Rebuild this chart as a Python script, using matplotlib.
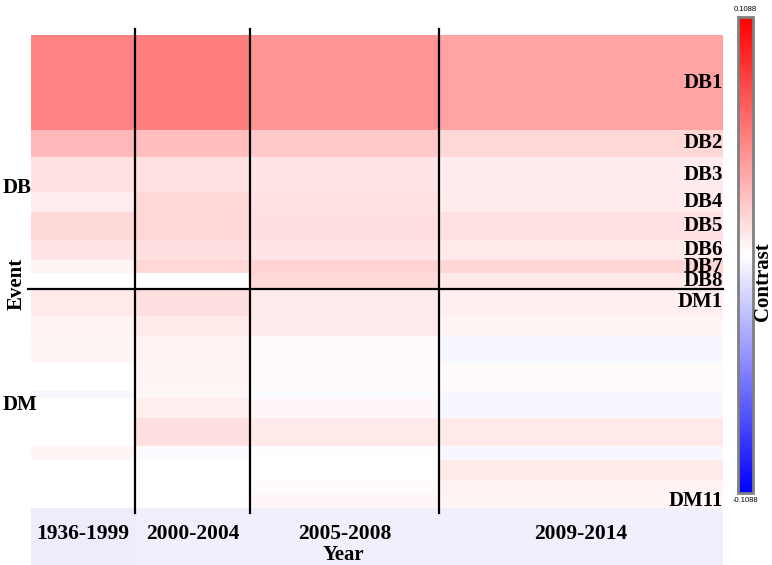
import numpy as np
import matplotlib
matplotlib.use('Agg')
import matplotlib.pyplot as plt
from matplotlib import colors
from matplotlib.patches import Rectangle

periods = ['1936-1999', '2000-2004', '2005-2008', '2009-2014']
period_widths = [104, 115, 189, 284]

db_events = ['DB1', 'DB2', 'DB3', 'DB4', 'DB5', 'DB6', 'DB7', 'DB8']
db_heights = [95, 27, 35, 20, 28, 20, 13, 16]
dm_events = ['DM1', 'DM2', 'DM3', 'DM4', 'DM5', 'DM6', 'DM7', 'DM8', 'DM9', 'DM10', 'DM11']
dm_heights = [26.5, 20.5, 27, 28, 6.5, 20.5, 28, 14, 20, 13.5, 14.5]
dm_shown = ['DM1', 'DM11']

# contrast per event (rows) and period (columns)
db_contrast = [
    [0.053, 0.055, 0.045, 0.039],
    [0.030, 0.028, 0.023, 0.017],
    [0.013, 0.013, 0.011, 0.0085],
    [0.0077, 0.017, 0.013, 0.0085],
    [0.016, 0.017, 0.014, 0.013],
    [0.0115, 0.0137, 0.0115, 0.0098],
    [0.004, 0.017, 0.019, 0.018],
    [0.0, 0.0, 0.016, 0.0098],
]
dm_contrast = [
    [0.0098, 0.014, 0.0085, 0.0068],
    [0.005, 0.0098, 0.0085, 0.0043],
    [0.004, 0.005, 0.002, -0.003],
    [0.0, 0.0045, 0.002, 0.002],
    [-0.003, 0.003, -0.002, -0.003],
    [0.0, 0.0064, 0.003, -0.003],
    [0.0, 0.014, 0.0098, 0.0098],
    [0.004, -0.002, 0.001, -0.003],
    [0.0, 0.0, 0.0, 0.0098],
    [0.0, 0.0, 0.002, 0.0055],
    [0.0, 0.0, 0.003, 0.0043],
]
vlim = 0.1088

plt.rcParams['font.family'] = ['Liberation Serif', 'DejaVu Serif']

fig = plt.figure(figsize=(7.72, 5.65), dpi=100)
ax = fig.add_axes([31/772, 57/565, 692/772, 473/565])

x_edges = np.concatenate([[0], np.cumsum(period_widths)])
heights = db_heights + dm_heights
y_edges = np.concatenate([[0], np.cumsum(heights)])
values = np.array(db_contrast + dm_contrast)

# odd N so that zero lands exactly on white
cmap = colors.LinearSegmentedColormap.from_list('contrast', ['#0000ff', '#ffffff', '#ff0000'], N=255)
norm = colors.Normalize(vmin=-vlim, vmax=vlim)
mesh = ax.pcolormesh(x_edges, y_edges, values, cmap=cmap, norm=norm)
ax.set_xlim(0, x_edges[-1])
ax.set_ylim(y_edges[-1], 0)
ax.axis('off')

# label band under the cells
band = 57/473
for i in range(len(periods)):
    fc = '#ececfb' if i == 0 else '#f0f0fc'
    ax.add_patch(Rectangle((x_edges[i], -band), period_widths[i], band, fc=fc, ec='none',
                           transform=ax.get_xaxis_transform(), clip_on=False))
    ax.text((x_edges[i] + x_edges[i+1]) / 2, y_edges[-1] + 26, periods[i],
            ha='center', va='center', fontsize=15.5, fontweight='bold')

for xb in x_edges[1:-1]:
    ax.plot([xb, xb], [-0.011, 1.013], color='k', lw=1.6, clip_on=False,
            transform=ax.get_xaxis_transform())
yb = sum(db_heights)
ax.plot([-0.005, 1.0], [yb, yb], color='k', lw=1.6, clip_on=False,
        transform=ax.get_yaxis_transform())

# event names on the right
events = db_events + dm_events
for name, y0, y1 in zip(events, y_edges[:-1], y_edges[1:]):
    if name in db_events or name in dm_shown:
        ax.text(1.0, (y0 + y1) / 2, name, ha='right', va='center', fontsize=15,
                fontweight='bold', transform=ax.get_yaxis_transform())

ax.text(-0.0405, yb / 2 + 26, 'DB', ha='left', va='center', fontsize=15,
        fontweight='bold', transform=ax.get_yaxis_transform())
ax.text(-0.0405, (yb + y_edges[-1]) / 2 + 6, 'DM', ha='left', va='center', fontsize=15,
        fontweight='bold', transform=ax.get_yaxis_transform())

fig.text(343/772, 1 - 555/565, 'Year', ha='center', va='center', fontsize=15, fontweight='bold')
fig.text(17/772, 1 - 284/565, 'Event', ha='center', va='center', rotation=90,
         fontsize=15, fontweight='bold')
fig.text(763/772, 1 - 282/565, 'Contrast', ha='center', va='center', rotation=90,
         fontsize=15, fontweight='bold')

cax = fig.add_axes([738/772, 72/565, 15/772, 476/565])
cb = fig.colorbar(mesh, cax=cax)
cb.set_ticks([])
cb.outline.set_edgecolor('#808080')
cb.outline.set_linewidth(2)
cax.text(0.5, 1.008, '%.4f' % vlim, transform=cax.transAxes, ha='center', va='bottom',
         fontsize=5.5, family='Liberation Sans')
cax.text(0.5, -0.008, '%.4f' % -vlim, transform=cax.transAxes, ha='center', va='top',
         fontsize=5.5, family='Liberation Sans')

fig.savefig('out.png', dpi=100)
